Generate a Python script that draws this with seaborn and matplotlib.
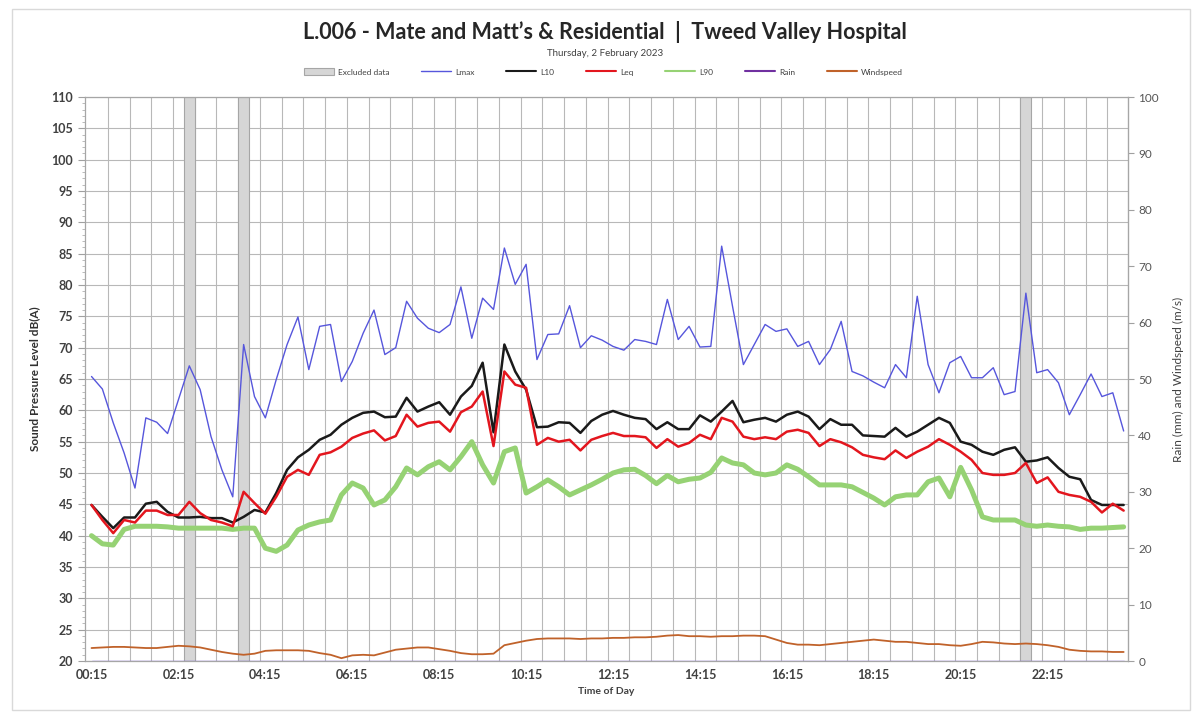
import numpy as np
import pandas as pd
import matplotlib.pyplot as plt
import seaborn as sns
from matplotlib.lines import Line2D
from matplotlib.patches import Patch, Rectangle
from matplotlib.ticker import MultipleLocator

# 15-minute intervals, 00:15 to 24:00 (96 points)
lmax = [65.4, 63.4, 58.0, 53.2, 47.6, 58.8, 58.1, 56.3, 61.7, 67.1, 63.3, 55.8, 50.5, 46.2, 70.5, 62.2,
        58.8, 64.9, 70.5, 74.9, 66.5, 73.4, 73.7, 64.6, 67.8, 72.3, 76.0, 68.9, 70.0, 77.4, 74.7, 73.1,
        72.4, 73.7, 79.7, 71.5, 77.9, 76.1, 85.9, 80.1, 83.3, 68.1, 72.1, 72.2, 76.7, 70.0, 71.9, 71.2,
        70.2, 69.6, 71.3, 71.0, 70.5, 77.7, 71.3, 73.4, 70.1, 70.2, 86.2, 76.6, 67.3, 70.5, 73.7, 72.6,
        73.0, 70.2, 71.0, 67.3, 69.7, 74.2, 66.2, 65.5, 64.5, 63.6, 67.3, 65.2, 78.2, 67.3, 62.8, 67.6,
        68.6, 65.2, 65.2, 66.8, 62.5, 63.0, 78.7, 66.0, 66.5, 64.4, 59.3, 62.5, 65.8, 62.2, 62.8, 56.7]
l10 = [44.9, 43.0, 41.2, 42.9, 42.9, 45.1, 45.4, 43.8, 42.9, 42.9, 43.0, 42.8, 42.8, 42.1, 43.0, 44.1,
       43.7, 46.8, 50.5, 52.5, 53.7, 55.3, 56.1, 57.7, 58.8, 59.6, 59.8, 58.9, 59.0, 62.0, 59.8, 60.6,
       61.3, 59.3, 62.2, 63.9, 67.6, 56.5, 70.5, 66.2, 63.3, 57.3, 57.4, 58.1, 58.0, 56.4, 58.3, 59.3,
       59.9, 59.3, 58.8, 58.6, 57.0, 58.1, 57.0, 57.0, 59.2, 58.2, 59.8, 61.5, 58.1, 58.5, 58.8, 58.2,
       59.3, 59.8, 59.0, 57.0, 58.6, 57.7, 57.7, 56.0, 55.9, 55.8, 57.2, 55.8, 56.6, 57.7, 58.8, 58.0,
       55.0, 54.5, 53.4, 52.9, 53.7, 54.1, 51.8, 52.0, 52.5, 50.8, 49.4, 49.0, 45.7, 44.9, 44.9, 44.9]
leq = [44.9, 42.5, 40.4, 42.5, 42.1, 44.0, 44.0, 43.3, 43.3, 45.4, 43.6, 42.5, 42.1, 41.5, 47.0, 45.2,
       43.5, 46.2, 49.4, 50.5, 49.7, 52.9, 53.3, 54.2, 55.6, 56.3, 56.8, 55.2, 55.9, 59.3, 57.4, 58.0,
       58.2, 56.6, 59.7, 60.6, 63.0, 54.3, 66.2, 64.1, 63.6, 54.5, 55.6, 55.0, 55.3, 53.6, 55.3, 55.9,
       56.4, 55.9, 55.9, 55.7, 54.0, 55.4, 54.2, 54.8, 56.1, 55.4, 58.8, 58.2, 55.8, 55.4, 55.7, 55.4,
       56.6, 56.9, 56.4, 54.3, 55.4, 54.9, 54.1, 52.9, 52.5, 52.2, 53.6, 52.4, 53.4, 54.2, 55.4, 54.5,
       53.4, 52.1, 50.0, 49.7, 49.7, 50.0, 51.6, 48.4, 49.3, 47.0, 46.5, 46.2, 45.4, 43.7, 45.1, 44.0]
l90 = [40.0, 38.7, 38.5, 41.0, 41.5, 41.5, 41.5, 41.4, 41.2, 41.2, 41.2, 41.2, 41.2, 41.0, 41.2, 41.2,
       38.0, 37.5, 38.5, 40.9, 41.7, 42.2, 42.5, 46.5, 48.4, 47.6, 44.9, 45.7, 47.8, 50.8, 49.7, 51.0,
       51.8, 50.5, 52.6, 55.0, 51.3, 48.4, 53.4, 54.0, 46.8, 47.8, 48.9, 47.8, 46.5, 47.3, 48.1, 49.0,
       50.0, 50.5, 50.6, 49.6, 48.3, 49.6, 48.6, 49.0, 49.2, 50.1, 52.4, 51.6, 51.3, 50.0, 49.7, 50.0,
       51.3, 50.6, 49.4, 48.1, 48.1, 48.1, 47.8, 46.9, 46.0, 44.9, 46.2, 46.5, 46.5, 48.6, 49.2, 46.2,
       50.9, 47.3, 43.0, 42.5, 42.5, 42.5, 41.7, 41.5, 41.7, 41.5, 41.4, 41.0, 41.2, 41.2, 41.3, 41.4]
windspeed = [2.3, 2.4, 2.5, 2.5, 2.4, 2.3, 2.3, 2.5, 2.7, 2.6, 2.4, 2.0, 1.6, 1.3, 1.1, 1.3,
             1.8, 1.9, 1.9, 1.9, 1.8, 1.4, 1.1, 0.5, 1.0, 1.1, 1.0, 1.5, 2.0, 2.2, 2.4, 2.4,
             2.1, 1.8, 1.4, 1.2, 1.2, 1.3, 2.8, 3.2, 3.6, 3.9, 4.0, 4.0, 4.0, 3.9, 4.0, 4.0,
             4.1, 4.1, 4.2, 4.2, 4.3, 4.5, 4.6, 4.4, 4.4, 4.3, 4.4, 4.4, 4.5, 4.5, 4.4, 3.8,
             3.2, 2.9, 2.9, 2.8, 3.0, 3.2, 3.4, 3.6, 3.8, 3.6, 3.4, 3.4, 3.2, 3.0, 3.0, 2.8,
             2.7, 3.0, 3.4, 3.3, 3.1, 3.0, 3.1, 3.0, 2.8, 2.5, 2.0, 1.8, 1.7, 1.7, 1.6, 1.6]
rain = [0.0] * 96
excluded = [9, 14, 86]  # 02:30, 03:45, 21:45
tick_pos = [0, 8, 16, 24, 32, 40, 48, 56, 64, 72, 80, 88]
tick_labels = ["00:15", "02:15", "04:15", "06:15", "08:15", "10:15",
               "12:15", "14:15", "16:15", "18:15", "20:15", "22:15"]

df = pd.DataFrame({"idx": np.arange(len(lmax)), "Lmax": lmax, "L10": l10, "Leq": leq,
                   "L90": l90, "Windspeed": windspeed, "Rain": rain})

sns.set_style("white")
plt.rcParams['font.family'] = ['Lato', 'DejaVu Sans']

fig = plt.figure(figsize=(12, 7.19), dpi=100)
fig.patches.append(Rectangle((0.01, 0.013), 0.982, 0.975, transform=fig.transFigure,
                             fill=False, ec='#d9d9d9', lw=1))
ax = fig.add_axes([85 / 1200, 1 - 661 / 719, (1128 - 85) / 1200, (661 - 97) / 719])

# excluded data bands
for c in excluded:
    ax.axvspan(c - 0.5, c + 0.5, color='#d6d6d6', ec='#a6a6a6', lw=0.8, zorder=1)

series = [("L90", "#96d274", 3.6), ("Lmax", "#5656dc", 1.0), ("L10", "#1a1a1a", 1.8),
          ("Leq", "#e3161e", 1.8)]
for col, color, lw in series:
    sns.lineplot(data=df, x="idx", y=col, ax=ax, color=color, linewidth=lw, legend=False, zorder=3)

ax.set_xlim(-0.6, 95.4)
ax.set_ylim(20, 110)
ax.set_yticks(range(20, 111, 5))
ax.yaxis.set_minor_locator(MultipleLocator(1))
ax.set_xticks(tick_pos)
ax.set_xticklabels(tick_labels)
ax.set_xticks(np.arange(1.5, 95, 2), minor=True)
ax.grid(True, which='major', axis='y', color='#b8b8b8', lw=0.8, zorder=0)
ax.grid(True, which='minor', axis='x', color='#b8b8b8', lw=0.8, zorder=0)
ax.set_axisbelow(True)
ax.tick_params(axis='y', which='major', length=5, color='#a0a0a0', labelsize=9, labelcolor='#404040')
ax.tick_params(axis='y', which='minor', length=2, color='#b0b0b0')
ax.tick_params(axis='x', which='major', length=0, labelsize=9, labelcolor='#404040', pad=6)
ax.tick_params(axis='x', which='minor', length=3, color='#a0a0a0')
for lab in ax.get_xticklabels() + ax.get_yticklabels():
    lab.set_fontweight('bold')
ax.set_xlabel("Time of Day", fontsize=7.5, fontweight='bold', color='#404040', labelpad=4)
ax.set_ylabel("Sound Pressure Level dB(A)", fontsize=8.5, fontweight='bold', color='#303030', labelpad=8)
for s in ax.spines.values():
    s.set_color('#a6a6a6')
    s.set_linewidth(0.9)

ax2 = ax.twinx()
sns.lineplot(data=df, x="idx", y="Windspeed", ax=ax2, color="#c0622a", linewidth=1.3, legend=False)
sns.lineplot(data=df, x="idx", y="Rain", ax=ax2, color="#8a6fe0", linewidth=1.0, legend=False)
ax2.set_ylim(0, 100)
ax2.set_yticks(range(0, 101, 10))
ax2.tick_params(axis='y', length=4, color='#a0a0a0', labelsize=8.5, labelcolor='#555555')
ax2.set_ylabel("Rain (mm) and Windspeed (m/s)", fontsize=8.5, color='#404040', labelpad=10)
for s in ax2.spines.values():
    s.set_visible(False)
ax2.spines['right'].set_visible(True)
ax2.spines['right'].set_color('#a6a6a6')

fig.text(0.504, 1 - 32 / 719, "L.006 - Mate and Matt\u2019s & Residential  |  Tweed Valley Hospital",
         ha='center', va='center', fontsize=15.5, fontweight='bold', color='#262626')
fig.text(0.504, 1 - 53 / 719, "Thursday, 2 February 2023", ha='center', va='center',
         fontsize=7, color='#404040')

handles = [Patch(facecolor='#d6d6d6', edgecolor='#a6a6a6', lw=0.8),
           Line2D([], [], color="#5656dc", lw=1.0),
           Line2D([], [], color="#1a1a1a", lw=1.5),
           Line2D([], [], color="#e3161e", lw=1.5),
           Line2D([], [], color="#96d274", lw=1.5),
           Line2D([], [], color="#7030a0", lw=1.5),
           Line2D([], [], color="#c0622a", lw=1.5)]
names = ["Excluded data", "Lmax", "L10", "Leq", "L90", "Rain", "Windspeed"]
fig.legend(handles, names, loc='center', bbox_to_anchor=(0.503, 1 - 72 / 719), ncol=7,
           frameon=False, fontsize=6, handlelength=3.6, handleheight=0.8, columnspacing=3.8,
           handletextpad=0.5, labelcolor='#404040')

fig.savefig("out.png", dpi=100)
